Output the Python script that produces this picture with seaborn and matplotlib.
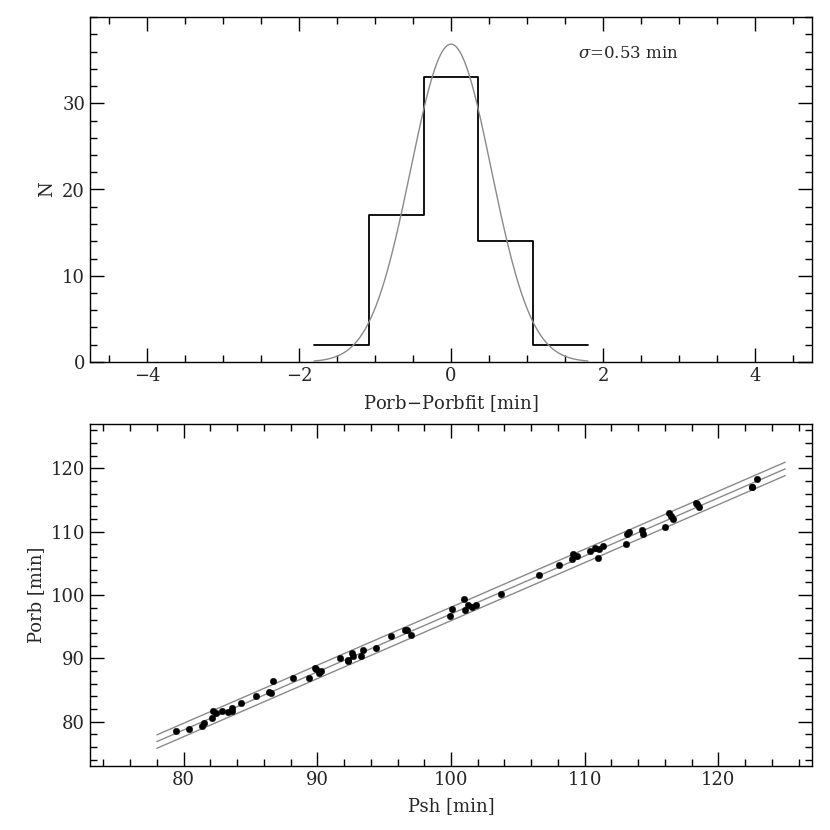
import numpy as np
import matplotlib
matplotlib.use("Agg")
import matplotlib.pyplot as plt
import seaborn as sns
from matplotlib.ticker import MultipleLocator, FixedLocator

# histogram of residuals (bin edges and counts)
bin_edges = [-1.8, -1.08, -0.36, 0.36, 1.08, 1.8]
bin_counts = [2, 17, 33, 14, 2]
sigma = 0.53

# superhump period vs orbital period [min]
psh = [79.4, 80.4, 81.4, 81.5, 82.1, 82.2, 82.4, 82.9, 83.3, 83.6, 83.6,
       84.3, 85.4, 86.4, 86.5, 86.7, 88.2, 89.35, 89.8, 89.9, 90.1, 90.3,
       91.7, 92.3, 92.3, 92.6, 92.7, 93.3, 93.4, 94.4, 95.5, 96.55, 96.7,
       97.0, 99.9, 100.1, 101.0, 101.05, 101.25, 101.6, 101.9, 103.75,
       106.6, 108.05, 109.05, 109.1, 109.4, 110.4, 110.8, 110.96, 111.1,
       111.4, 113.1, 113.2, 113.35, 114.3, 114.35, 116.0, 116.3, 116.45,
       116.6, 118.3, 118.4, 118.55, 122.5, 122.5, 122.9]
porb = [78.6, 78.8, 79.3, 79.8, 80.6, 81.7, 81.4, 81.7, 81.6, 82.2, 81.7,
        83.0, 84.0, 84.7, 84.6, 86.4, 86.9, 86.9, 88.5, 88.3, 87.7, 88.0,
        90.1, 89.6, 89.8, 90.9, 90.3, 90.4, 91.3, 91.6, 93.5, 94.5, 94.4,
        93.75, 96.75, 97.8, 99.3, 97.7, 98.5, 98.1, 98.5, 100.2,
        103.1, 104.8, 105.7, 106.5, 106.1, 107.0, 107.4, 105.9, 107.3,
        107.8, 108.0, 109.7, 110.0, 110.3, 109.7, 110.8, 113.0, 112.4,
        112.0, 114.6, 114.4, 113.9, 117.0, 117.1, 118.3]

# linear fit Porb = a*Psh + b, band at +-2 sigma
fit_a, fit_b = 0.9162, 5.39
fit_x = [78.0, 125.0]

sns.set_style("ticks")
plt.rcParams["font.family"] = ["DejaVu Serif"]
plt.rcParams["mathtext.fontset"] = "dejavuserif"

fig = plt.figure(figsize=(8.3, 8.3), dpi=100)
ax1 = fig.add_axes([90 / 830, 1 - 362 / 830, 722 / 830, 345 / 830])
ax2 = fig.add_axes([90 / 830, 1 - 766 / 830, 722 / 830, 342 / 830])

centers = 0.5 * (np.array(bin_edges[:-1]) + np.array(bin_edges[1:]))
sns.histplot(x=centers, weights=bin_counts, bins=bin_edges, element="step",
             fill=False, color="black", linewidth=1.3, ax=ax1)

width = bin_edges[1] - bin_edges[0]
gx = np.linspace(-1.8, 1.8, 300)
gy = sum(bin_counts) * width / (sigma * np.sqrt(2 * np.pi)) * np.exp(-0.5 * (gx / sigma) ** 2)
ax1.plot(gx, gy, color="#8a8a8a", linewidth=1.0)
ax1.text(1.67, 35.8, r"$\sigma$=0.53 min", fontsize=12, va="center", ha="left")

ax1.set_xlim(-4.75, 4.75)
ax1.set_ylim(0, 40)
ax1.set_xlabel("Porb$-$Porbfit [min]", fontsize=13, labelpad=6)
ax1.set_ylabel("N", fontsize=13)
ax1.xaxis.set_major_locator(MultipleLocator(2))
ax1.xaxis.set_minor_locator(MultipleLocator(0.5))
ax1.yaxis.set_major_locator(FixedLocator([0, 10, 20, 30]))
ax1.yaxis.set_minor_locator(MultipleLocator(2))

fx = np.array(fit_x)
for off in (-2 * sigma, 0.0, 2 * sigma):
    sns.lineplot(x=fx, y=fit_a * fx + fit_b + off, color="#8a8a8a",
                 linewidth=1.0, ax=ax2)
sns.scatterplot(x=psh, y=porb, color="black", s=22, edgecolor="black",
                linewidth=0.3, ax=ax2, zorder=3)

ax2.set_xlim(73, 127)
ax2.set_ylim(73, 127)
ax2.set_xlabel("Psh [min]", fontsize=13, labelpad=6)
ax2.set_ylabel("Porb [min]", fontsize=13)
ax2.xaxis.set_major_locator(MultipleLocator(10))
ax2.xaxis.set_minor_locator(MultipleLocator(2))
ax2.yaxis.set_major_locator(MultipleLocator(10))
ax2.yaxis.set_minor_locator(MultipleLocator(2))

for ax in (ax1, ax2):
    for sp in ax.spines.values():
        sp.set_visible(True)
        sp.set_linewidth(1.0)
        sp.set_color("black")
    ax.tick_params(which="both", direction="in", top=True, right=True,
                   labelsize=13, color="black")
    ax.tick_params(which="major", length=10, width=1.0)
    ax.tick_params(which="minor", length=5, width=1.0)

fig.savefig("out.png", dpi=100)
